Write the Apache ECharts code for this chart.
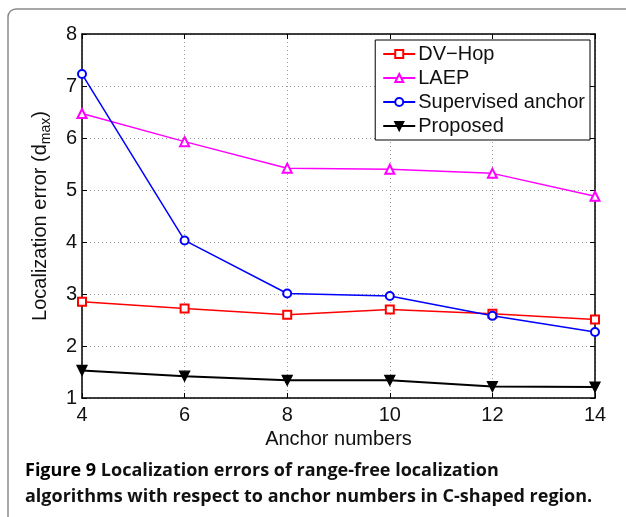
<!DOCTYPE html>
<html>
<head>
<meta charset="utf-8">
<script src="https://cdn.jsdelivr.net/npm/echarts@6/dist/echarts.min.js"></script>
<style>
  html, body { margin: 0; padding: 0; background: #fff; }
  #chart { width: 626px; height: 517px; }
</style>
</head>
<body>
<div id="chart"></div>
<script>
// anchor counts on the x axis
const anchors = [4, 6, 8, 10, 12, 14];

// localization error (d_max)
const dvHop = [2.85, 2.72, 2.60, 2.70, 2.62, 2.51];
const laep = [6.47, 5.93, 5.42, 5.40, 5.32, 4.88];
const supervised = [7.23, 4.03, 3.01, 2.96, 2.58, 2.27];
const proposed = [1.53, 1.42, 1.34, 1.34, 1.22, 1.21];

const seriesNames = ['DV\u2212Hop', 'LAEP', 'Supervised anchor', 'Proposed'];

const captionLines = [
  'Localization errors of range-free localization',
  'algorithms with respect to anchor numbers in C-shaped region.'
];

const pairs = (ys) => anchors.map((x, i) => [x, ys[i]]);
const axisFont = 'Liberation Sans, Arial, sans-serif';
const capFont = 'Open Sans, Noto Sans, sans-serif';

const chart = echarts.init(document.getElementById('chart'));

const baseLine = (name, data, color, symbol, extra) => Object.assign({
  name: name,
  type: 'line',
  data: pairs(data),
  symbol: symbol,
  symbolSize: 8,
  showAllSymbol: true,
  lineStyle: { color: color, width: 1.5 },
  itemStyle: { color: color, borderColor: color, borderWidth: 1.3 },
  emphasis: { disabled: true },
  z: 3
}, extra || {});

const option = {
  animation: false,
  backgroundColor: '#fff',
  grid: { left: 82, top: 34, right: 31, bottom: 119 },
  legend: {
    orient: 'vertical',
    right: 36,
    top: 40,
    padding: [4, 5, 4, 7],
    itemGap: 4,
    itemWidth: 32,
    itemHeight: 10,
    backgroundColor: '#fff',
    borderColor: '#000',
    borderWidth: 1,
    borderRadius: 0,
    textStyle: { fontFamily: axisFont, fontSize: 20, color: '#111', padding: [0, 0, 0, -2] },
    data: seriesNames
  },
  xAxis: [
    {
      type: 'value',
      min: 4, max: 14, interval: 2,
      name: 'Anchor numbers',
      nameLocation: 'middle',
      nameGap: 27,
      nameTextStyle: { fontFamily: axisFont, fontSize: 20, color: '#111' },
      axisLine: { lineStyle: { color: '#000', width: 1.5 } },
      axisTick: { inside: true, length: 5, lineStyle: { color: '#000' } },
      axisLabel: { fontFamily: axisFont, fontSize: 20, color: '#111', margin: 7 },
      splitLine: { show: true, lineStyle: { color: '#999', type: [1, 3], width: 1 } }
    },
    {
      type: 'value',
      position: 'top',
      min: 4, max: 14, interval: 2,
      axisLine: { lineStyle: { color: '#000', width: 1.5 } },
      axisTick: { inside: true, length: 5, lineStyle: { color: '#000' } },
      axisLabel: { show: false },
      splitLine: { show: false }
    }
  ],
  yAxis: [
    {
      type: 'value',
      min: 1, max: 8, interval: 1,
      name: 'Localization error (d{sub|max})',
      nameLocation: 'middle',
      nameGap: 29,
      nameTextStyle: {
        fontFamily: axisFont, fontSize: 20, color: '#111',
        rich: { sub: { fontFamily: axisFont, fontSize: 14, color: '#111', verticalAlign: 'bottom', padding: [12, 0, 0, 0] } }
      },
      axisLine: { lineStyle: { color: '#000', width: 1.5 } },
      axisTick: { inside: true, length: 5, lineStyle: { color: '#000' } },
      axisLabel: { fontFamily: axisFont, fontSize: 20, color: '#111', margin: 5 },
      splitLine: { show: true, lineStyle: { color: '#999', type: [1, 3], width: 1 } }
    },
    {
      type: 'value',
      position: 'right',
      min: 1, max: 8, interval: 1,
      axisLine: { show: true, lineStyle: { color: '#000', width: 1.5 } },
      axisTick: { show: true, inside: true, length: 5, lineStyle: { color: '#000' } },
      axisLabel: { show: false },
      splitLine: { show: false }
    }
  ],
  series: [
    baseLine(seriesNames[0], dvHop, '#ff0000', 'emptyRect', { symbolSize: 8 }),
    baseLine(seriesNames[1], laep, '#ff00ff', 'emptyTriangle', { symbolSize: 9 }),
    baseLine(seriesNames[2], supervised, '#0000ff', 'emptyCircle', { symbolSize: 8 }),
    baseLine(seriesNames[3], proposed, '#000000', 'triangle', {
      symbolSize: 10, symbolRotate: 180, lineStyle: { color: '#000', width: 2 }
    })
  ],
  graphic: [
    {
      type: 'rect',
      z: -1,
      shape: { x: 8, y: 9, width: 700, height: 620, r: 8 },
      style: { fill: 'none', stroke: '#8a8a8a', lineWidth: 1.5 }
    },
    {
      type: 'text',
      left: 25,
      top: 458,
      style: {
        text: '{b|Figure 9} ' + captionLines[0] + '\n' + captionLines[1],
        fontFamily: capFont,
        fontWeight: 'bold',
        fontSize: 18,
        lineHeight: 26,
        fill: '#111',
        rich: { b: { fontFamily: capFont, fontWeight: 'bold', fontSize: 18, fill: '#000' } }
      }
    }
  ]
};

chart.setOption(option);
</script>
</body>
</html>
